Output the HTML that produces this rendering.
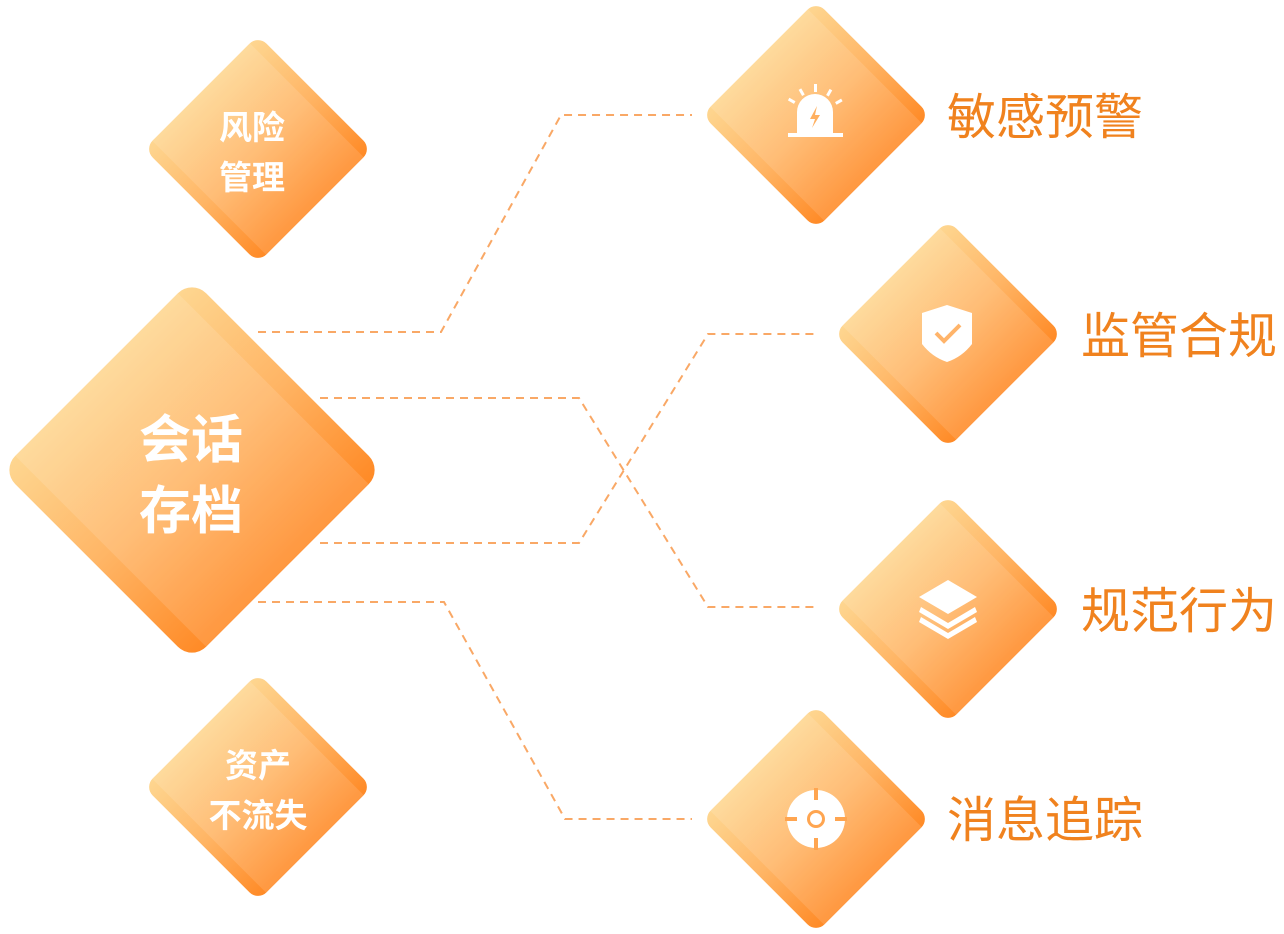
<!DOCTYPE html>
<html><head><meta charset="utf-8"><style>
html,body{margin:0;padding:0;background:#fff;}
svg{display:block}
text{font-family:"Liberation Sans","Noto Sans CJK SC",sans-serif;}
</style></head><body>
<svg width="1284" height="934" viewBox="0 0 1284 934" xmlns="http://www.w3.org/2000/svg">
<defs>
<linearGradient id="g" x1="0" y1="0.5" x2="1" y2="0.5">
<stop offset="0" stop-color="#fed690"/><stop offset="0.5" stop-color="#ffb565"/><stop offset="1" stop-color="#ff8a26"/>
</linearGradient>
</defs>
<g fill="none" stroke="#f9a866" stroke-width="2" stroke-dasharray="8 6">
<polyline points="258,332 441,332 561,115 692,115"/>
<polyline points="320,398 579,398 708,607 815,607"/>
<polyline points="320,543 579,543 708,334 815,334"/>
<polyline points="258,602 444,602 565,819 692,819"/>
</g>
<g transform="translate(192,470) rotate(45)">
<rect x="-135" y="-135" width="270" height="270" rx="20" fill="url(#g)"/>
<rect x="-135" y="-115" width="270" height="230" fill="#fff" opacity="0.12"/>
</g>
<g transform="translate(258,149) rotate(45)">
<rect x="-80.5" y="-80.5" width="161" height="161" rx="12" fill="url(#g)"/>
<rect x="-80.5" y="-69" width="161" height="138" fill="#fff" opacity="0.12"/>
</g>
<g transform="translate(258,787) rotate(45)">
<rect x="-80.5" y="-80.5" width="161" height="161" rx="12" fill="url(#g)"/>
<rect x="-80.5" y="-69" width="161" height="138" fill="#fff" opacity="0.12"/>
</g>
<g transform="translate(816,115) rotate(45)">
<rect x="-80.5" y="-80.5" width="161" height="161" rx="12" fill="url(#g)"/>
<rect x="-80.5" y="-69" width="161" height="138" fill="#fff" opacity="0.12"/>
</g>
<g transform="translate(948,334) rotate(45)">
<rect x="-80.5" y="-80.5" width="161" height="161" rx="12" fill="url(#g)"/>
<rect x="-80.5" y="-69" width="161" height="138" fill="#fff" opacity="0.12"/>
</g>
<g transform="translate(948,609) rotate(45)">
<rect x="-80.5" y="-80.5" width="161" height="161" rx="12" fill="url(#g)"/>
<rect x="-80.5" y="-69" width="161" height="138" fill="#fff" opacity="0.12"/>
</g>
<g transform="translate(816,819) rotate(45)">
<rect x="-80.5" y="-80.5" width="161" height="161" rx="12" fill="url(#g)"/>
<rect x="-80.5" y="-69" width="161" height="138" fill="#fff" opacity="0.12"/>
</g>
<g fill="#fff" text-anchor="middle" font-weight="bold">
<text x="191" y="458" font-size="52">会话</text>
<text x="191" y="529" font-size="52">存档</text>
<text x="252" y="139" font-size="33">风险</text>
<text x="252" y="189" font-size="33">管理</text>
<text x="258" y="777" font-size="33">资产</text>
<text x="258" y="827" font-size="33">不流失</text>
</g>
<g fill="#f0821e" font-size="49">
<text x="947" y="134">敏感预警</text>
<text x="1081" y="353">监管合规</text>
<text x="1081" y="628">规范行为</text>
<text x="947" y="837">消息追踪</text>
</g>
<g fill="#fff" stroke="none">
<path d="M797,133 L797,112 A18,18 0 0 1 833,112 L833,133 Z"/>
<rect x="788" y="133" width="55" height="4"/>
<rect x="814" y="84" width="3" height="8"/>
<rect x="800" y="89" width="3" height="7" transform="rotate(-30 801 92)"/>
<rect x="828" y="89" width="3" height="7" transform="rotate(30 829 92)"/>
<rect x="790" y="98" width="3" height="7" transform="rotate(-60 791 101)"/>
<rect x="838" y="98" width="3" height="7" transform="rotate(60 839 101)"/>
<path d="M817,106 L810,119 L815,119 L812,128 L820,115 L815,115 Z" fill="#ffb060"/>
<path d="M922,313 L947,305 L972,313 L972,344 Q962,357 947,362 Q932,357 922,344 Z"/>
<path d="M936,333 L944,341 L960,325" fill="none" stroke="#ffb46a" stroke-width="4"/>
<path d="M948,580 L977,597 L948,614 L919,597 Z"/>
<path d="M921,607 L948,623 L975,607 L977,612 L948,629 L919,612 Z"/>
<path d="M921,617 L948,633 L975,617 L977,622 L948,639 L919,622 Z"/>
<circle cx="816" cy="819" r="29"/>
<circle cx="816" cy="819" r="9" fill="#ffa550"/>
<circle cx="816" cy="819" r="6"/>
<rect x="814" y="788" width="4" height="12" fill="#ffa550"/>
<rect x="814" y="838" width="4" height="12" fill="#ffa550"/>
<rect x="785" y="817" width="12" height="4" fill="#ffa550"/>
<rect x="835" y="817" width="12" height="4" fill="#ffa550"/>
</g>
</svg>
</body></html>
